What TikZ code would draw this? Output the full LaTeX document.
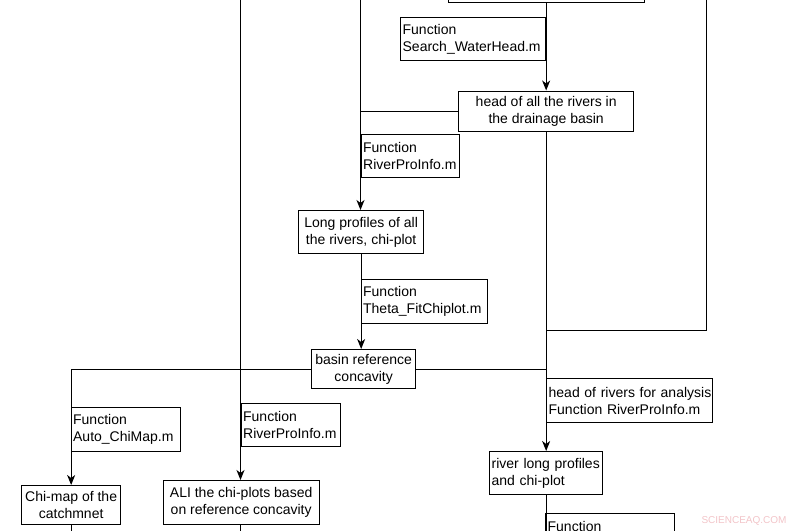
\documentclass[tikz,border=0pt]{standalone}
\usepackage{fontspec}
\setmainfont{Liberation Sans}
\usetikzlibrary{arrows.meta}
\definecolor{wmark}{RGB}{242,196,200}
\begin{document}
\begin{tikzpicture}[x=1pt,y=-1pt,
  every node/.style={font=\fontsize{14}{17}\selectfont},
  bx/.style={draw, line width=1.3pt, inner sep=2pt, anchor=north west},
  lbox/.style 2 args={bx, text width=#1, minimum height=#2, align=left},
  cbox/.style 2 args={bx, minimum width=#1, minimum height=#2, align=center},
  ln/.style={line width=1.3pt},
  arr/.style={ln, -{Stealth[length=10pt,width=8pt,inset=3pt]}}]
\useasboundingbox (0,0) rectangle (800,530);
\clip (0,0) rectangle (800,530);

% boxes
\node[cbox={196pt}{44pt}] (top) at (448,-42) {};
\node[lbox={141pt}{43pt}] (search) at (400,17) {Function\\\mbox{Search\_WaterHead.m}};
\node[cbox={175pt}{40pt}] (head) at (458,90.5) {head of all the rivers in\\the drainage basin};
\node[lbox={94pt}{43pt}] (rpia) at (360.5,134) {Function\\\mbox{RiverProInfo.m}};
\node[cbox={125pt}{43pt}] (lp) at (298,210) {Long profiles of all\\the rivers, chi-plot};
\node[lbox={122pt}{44pt}] (theta) at (360.5,279) {Function\\\mbox{Theta\_FitChiplot.m}};
\node[cbox={104pt}{39pt}] (basin) at (311,349) {basin reference\\concavity};
\node[lbox={162pt}{44pt}] (hra) at (546,378) {\mbox{head of rivers for analysis}\\\mbox{Function RiverProInfo.m}};
\node[lbox={109pt}{43pt}] (rlp) at (489,451) {\mbox{river long profiles}\\and chi-plot};
\node[lbox={125pt}{43pt}] (bfun) at (545,513) {Function\\\mbox{}};
\node[lbox={105pt}{44pt}] (auto) at (70.5,407) {Function\\\mbox{Auto\_ChiMap.m}};
\node[cbox={99pt}{39pt}] (chimap) at (21,485) {Chi-map of the\\catchmnet};
\node[lbox={95pt}{43pt}] (rpib) at (240.5,403) {Function\\\mbox{RiverProInfo.m}};
\node[cbox={156pt}{44pt}] (ali) at (162.5,480) {ALI the chi-plots based\\on reference concavity};

\node[font=\fontsize{10}{12}\selectfont, text=wmark] (wm) at (744,521) {SCIENCEAQ.COM};

% free ends
\coordinate (t240) at (240.5,-5);
\coordinate (t360) at (360.5,-5);
\coordinate (t706) at (706.5,-5);
\coordinate (k706) at (706.5,330.5);
\coordinate (bot) at (0,540);

% connectors
\draw[arr] (head.north |- top.south) -- (head.north);
\draw[arr] (t360) -- (t360 |- lp.north);
\draw[ln] (head.west) -- (head.west -| t360);
\draw[arr] (lp.south) -- (lp.south |- basin.north);
\draw[arr] (t240) -- (t240 |- ali.north);
\draw[ln] (t706) -- (k706) -- (k706 -| head.south);
\draw[arr] (head.south) -- (head.south |- rlp.north);
\draw[arr] (basin.west) -- (basin.west -| chimap.north) -- (chimap.north);
\draw[ln] (basin.east) -- (basin.east -| head.south);
\draw[ln] (chimap.south) -- (chimap.south |- bot);
\draw[ln] (t240 |- ali.south) -- (t240 |- bot);
\draw[ln] (rlp.south) -- (rlp.south |- bot);
\end{tikzpicture}
\end{document}
